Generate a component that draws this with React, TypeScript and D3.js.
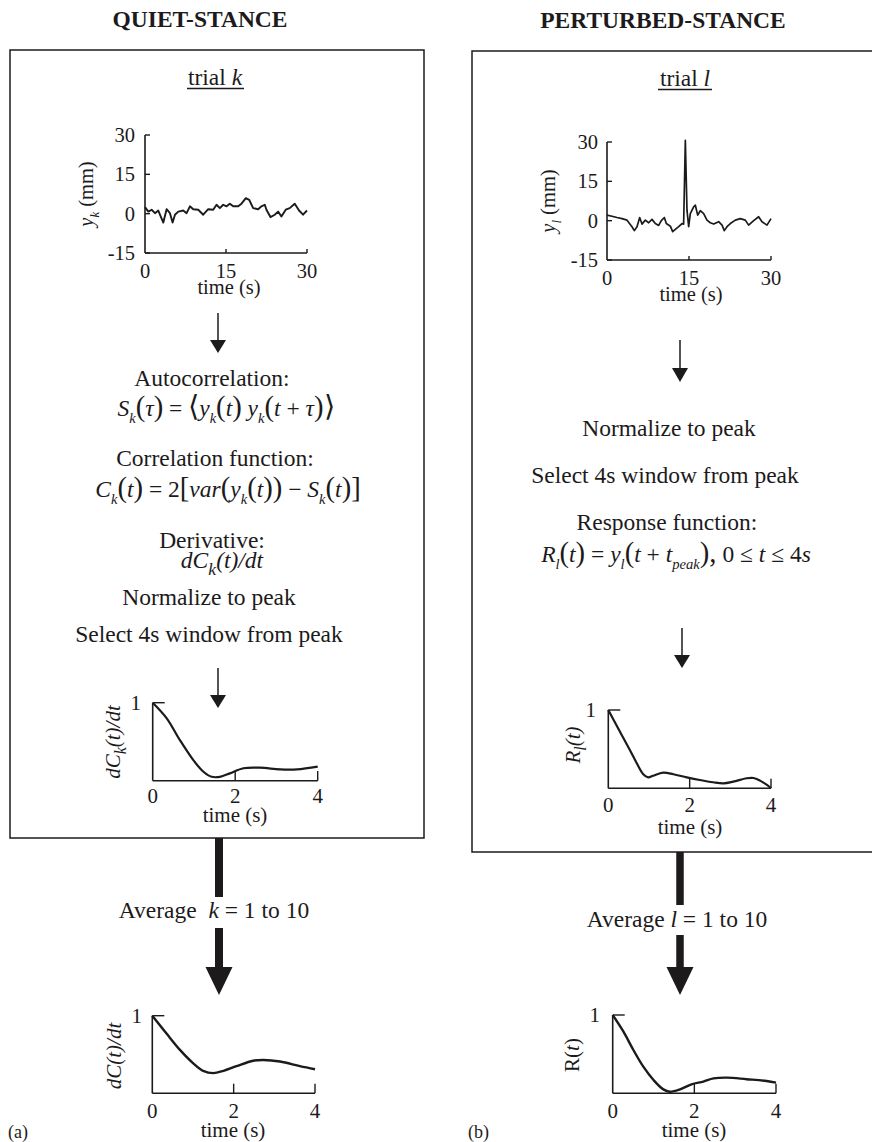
import React from 'react';
import * as d3 from 'd3';

const FONT = 'Liberation Serif';
const INK = '#1c1a1b';

// ---------- data ----------
const quietTrialTime = [0, 0.62, 1.23, 1.85, 2.46, 3.39, 4.0, 4.62, 5.11, 5.55, 6.16, 7.09, 7.7, 8.32, 8.93, 9.86, 10.78, 11.71, 12.63, 13.25, 13.86, 14.48, 15.1, 15.71, 16.33, 17.25, 17.87, 18.67, 19.29, 20.03, 20.95, 21.57, 22.18, 22.49, 23.23, 24.03, 24.65, 25.26, 26.06, 26.8, 27.73, 28.53, 29.27, 30.0];
const quietTrialPos = [2.5, 0.8, 1.5, 0.2, 1.2, -3.4, 1.7, 0.2, -3.4, -0.4, 0.8, 1.2, 0.2, 2.8, 1.7, 1.5, -0.4, 1.7, 1.5, 3.4, 2.1, 3.4, 2.8, 3.8, 2.8, 2.8, 3.8, 5.9, 5.3, 2.1, 1.7, 2.8, 3.4, 1.5, -1.3, -0.4, 0.8, -1.1, 1.5, 2.1, 3.8, 1.2, -0.4, 1.2];

const pertTrialTime = [0, 0.91, 1.83, 2.74, 3.66, 4.57, 5.0, 5.49, 5.98, 6.4, 7.01, 7.62, 8.23, 8.84, 9.45, 9.94, 10.49, 10.85, 11.59, 12.01, 12.5, 13.11, 13.72, 14.02, 14.33, 14.63, 14.94, 15.24, 15.85, 16.16, 16.59, 17.07, 17.68, 18.29, 18.9, 19.51, 20.43, 21.04, 21.46, 21.95, 22.56, 23.48, 24.39, 25.3, 25.91, 26.83, 27.74, 28.35, 29.27, 30.0];
const pertTrialPos = [2.1, 1.7, 1.2, 0.8, 0.2, -2.3, -3.8, -2.3, 1.2, -1.3, 0.2, -0.8, 0.5, -1.1, -1.8, 0, 1.2, -1.1, -2.1, -4.2, -3.3, -2.3, -1.1, -1.3, 30.6, 4.0, -2.3, 2.7, 5.3, 5.9, 2.1, 3.8, 2.7, 0.2, -0.8, -1.3, -0.4, -1.7, -3.8, -2.3, -1.1, 0.2, 0.8, 0.2, -1.7, 0, 1.5, -0.4, -1.7, 0.8];

const quietDerivTime = [0, 0.34, 0.66, 0.99, 1.23, 1.43, 1.63, 1.87, 2.2, 2.6, 3.09, 3.5, 4];
const quietDerivVal = [1.0, 0.8, 0.52, 0.26, 0.115, 0.05, 0.05, 0.094, 0.16, 0.167, 0.145, 0.145, 0.18];

const pertRespTime = [0, 0.29, 0.53, 0.7, 0.86, 0.98, 1.1, 1.35, 1.6, 1.93, 2.25, 2.58, 2.83, 3.07, 3.4, 3.57, 3.73, 3.9, 4];
const pertRespVal = [1.0, 0.72, 0.49, 0.32, 0.18, 0.14, 0.16, 0.2, 0.18, 0.14, 0.106, 0.077, 0.064, 0.085, 0.128, 0.132, 0.098, 0.043, 0];

const quietAvgTime = [0, 0.35, 0.68, 1.0, 1.25, 1.5, 1.75, 2.07, 2.48, 2.73, 3.14, 3.63, 4];
const quietAvgVal = [1.0, 0.77, 0.56, 0.39, 0.29, 0.26, 0.29, 0.35, 0.42, 0.43, 0.41, 0.35, 0.31];

const pertAvgTime = [0, 0.26, 0.51, 0.75, 1.0, 1.24, 1.4, 1.65, 1.93, 2.22, 2.47, 2.8, 3.28, 3.77, 4];
const pertAvgVal = [1.0, 0.79, 0.55, 0.34, 0.17, 0.05, 0.02, 0.05, 0.115, 0.15, 0.19, 0.2, 0.18, 0.157, 0.136];

const trialXTicks = [0, 15, 30];
const trialYTicks = [-15, 0, 15, 30];
const smallXTicks = [0, 2, 4];
const smallYTicks = [1];

// ---------- helpers ----------
type Seg = { t: string; it?: boolean; sub?: boolean; big?: boolean; small?: number };

function Rich({ segs, x, y, size, anchor = 'middle', transform }: { segs: Seg[]; x: number; y: number; size: number; anchor?: string; transform?: string }) {
  let cur = 0;
  const parts = segs.map((s, i) => {
    const target = s.sub ? size * 0.28 : 0;
    const dy = target - cur;
    cur = target;
    const fs = s.sub ? size * (s.small ?? 0.62) : s.big ? size * 1.22 : undefined;
    return (
      <tspan key={i} dy={dy !== 0 ? dy : undefined} fontStyle={s.it ? 'italic' : undefined} fontSize={fs}>
        {s.t}
      </tspan>
    );
  });
  return (
    <text x={x} y={y} fontSize={size} textAnchor={anchor} fontFamily={FONT} fill={INK} transform={transform} style={{ whiteSpace: 'pre' }}>
      {parts}
    </text>
  );
}

function Arrow({ x, y0, y1, head, headW, w }: { x: number; y0: number; y1: number; head: number; headW: number; w: number }) {
  return (
    <g>
      <line x1={x} x2={x} y1={y0} y2={y1 - head + 1} stroke={INK} strokeWidth={w} />
      <polygon points={`${x - headW / 2},${y1 - head} ${x + headW / 2},${y1 - head} ${x},${y1}`} fill={INK} />
    </g>
  );
}

type PanelProps = {
  x0: number; x1: number; y0: number; y1: number;
  xDomain: [number, number]; yDomain: [number, number];
  xTicks: number[]; yTicks: number[];
  ts: number[]; vs: number[];
  smooth: boolean;
  tickFont: number; tickLen: number;
  yLabelRight: number;
  xLabelBase: number; timeBase: number; timeX: number;
  lineW: number;
};

function Panel(p: PanelProps) {
  const xs = d3.scaleLinear().domain(p.xDomain).range([p.x0, p.x1]);
  const ys = d3.scaleLinear().domain(p.yDomain).range([p.y1, p.y0]);
  const pts: [number, number][] = p.ts.map((t, i) => [t, p.vs[i]]);
  const line = d3.line<[number, number]>()
    .x((d) => xs(d[0]))
    .y((d) => ys(d[1]))
    .curve(p.smooth ? d3.curveCatmullRom.alpha(0.5) : d3.curveLinear);
  return (
    <g>
      <path d={line(pts) ?? ''} fill="none" stroke={INK} strokeWidth={p.lineW} strokeLinejoin="round" />
      <line x1={p.x0} x2={p.x0} y1={p.y0} y2={p.y1} stroke={INK} strokeWidth={1.6} />
      <line x1={p.x0} x2={p.x1} y1={p.y1} y2={p.y1} stroke={INK} strokeWidth={1.6} />
      {p.yTicks.map((v) => (
        <g key={'y' + v}>
          <line x1={p.x0} x2={p.x0 + p.tickLen} y1={ys(v)} y2={ys(v)} stroke={INK} strokeWidth={1.4} />
          <text x={p.yLabelRight} y={ys(v) + p.tickFont * 0.34} fontSize={p.tickFont} textAnchor="end" fontFamily={FONT} fill={INK}>
            {String(v)}
          </text>
        </g>
      ))}
      {p.xTicks.map((v) => (
        <g key={'x' + v}>
          {v !== p.xDomain[0] && (
            <line x1={xs(v)} x2={xs(v)} y1={p.y1} y2={p.y1 - p.tickLen * 0.8} stroke={INK} strokeWidth={1.4} />
          )}
          <text x={xs(v)} y={p.xLabelBase} fontSize={p.tickFont} textAnchor="middle" fontFamily={FONT} fill={INK}>
            {String(v)}
          </text>
        </g>
      ))}
      <text x={p.timeX} y={p.timeBase} fontSize={p.tickFont} textAnchor="middle" fontFamily={FONT} fill={INK}>
        time (s)
      </text>
    </g>
  );
}

export default function App() {
  const BODY = 23.5;
  const leftBoxBottom = 838;
  const rightBoxBottom = 852;
  return (
    <svg width={872} height={1142} viewBox="0 0 872 1142" style={{ position: 'absolute', left: 0, top: 0, background: '#fff' }}>
      <rect x={0} y={0} width={872} height={1142} fill="#fff" />
      <text x={200} y={27} fontSize={23.5} fontWeight="bold" textAnchor="middle" fontFamily={FONT} fill={INK}>QUIET-STANCE</text>
      <text x={663} y={28} fontSize={23.5} fontWeight="bold" textAnchor="middle" fontFamily={FONT} fill={INK}>PERTURBED-STANCE</text>

      <rect x={10} y={50} width={414} height={leftBoxBottom - 50} fill="none" stroke={INK} strokeWidth={1.5} />
      <rect x={472} y={51} width={420} height={rightBoxBottom - 51} fill="none" stroke={INK} strokeWidth={1.5} />

      <Rich segs={[{ t: 'trial ' }, { t: 'k', it: true }]} x={215} y={85} size={BODY} />
      <line x1={187} x2={244} y1={88.5} y2={88.5} stroke={INK} strokeWidth={1.3} />
      <Rich segs={[{ t: 'trial ' }, { t: 'l', it: true }]} x={685} y={86} size={BODY} />
      <line x1={658} x2={712} y1={89.5} y2={89.5} stroke={INK} strokeWidth={1.3} />

      <Panel x0={145} x1={307} y0={135} y1={253} xDomain={[0, 30]} yDomain={[-15, 30]}
        xTicks={trialXTicks} yTicks={trialYTicks} ts={quietTrialTime} vs={quietTrialPos} smooth={false}
        tickFont={20.5} tickLen={5} yLabelRight={135} xLabelBase={278} timeBase={294} timeX={229} lineW={1.9} />
      <Rich segs={[{ t: 'y', it: true }, { t: 'k', it: true, sub: true }, { t: ' (mm)' }]} x={93} y={194} size={20.5} transform="rotate(-90 93 194)" />

      <Panel x0={607} x1={771} y0={142} y1={260} xDomain={[0, 30]} yDomain={[-15, 30]}
        xTicks={trialXTicks} yTicks={trialYTicks} ts={pertTrialTime} vs={pertTrialPos} smooth={false}
        tickFont={20.5} tickLen={5} yLabelRight={598} xLabelBase={285} timeBase={301} timeX={691} lineW={1.7} />
      <Rich segs={[{ t: 'y', it: true }, { t: 'l', it: true, sub: true }, { t: ' (mm)' }]} x={555} y={201} size={20.5} transform="rotate(-90 555 201)" />

      <Arrow x={218} y0={313} y1={353} head={13} headW={16} w={1.5} />
      <Arrow x={680} y0={340} y1={382} head={14} headW={16} w={1.5} />
      <Arrow x={218} y0={668} y1={708} head={13} headW={16} w={1.5} />
      <Arrow x={682} y0={628} y1={668} head={13} headW={16} w={1.5} />

      <Rich segs={[{ t: 'Autocorrelation:' }]} x={212} y={386} size={BODY} />
      <Rich x={226} y={416} size={BODY} segs={[
        { t: 'S', it: true }, { t: 'k', it: true, sub: true }, { t: '(', big: true }, { t: 'τ', it: true }, { t: ')', big: true },
        { t: ' = ' }, { t: '⟨', big: true }, { t: 'y', it: true }, { t: 'k', it: true, sub: true }, { t: '(', big: true }, { t: 't', it: true }, { t: ')', big: true },
        { t: ' y', it: true }, { t: 'k', it: true, sub: true }, { t: '(', big: true }, { t: 't', it: true }, { t: ' + ' }, { t: 'τ', it: true }, { t: ')', big: true }, { t: '⟩', big: true },
      ]} />
      <Rich segs={[{ t: 'Correlation function:' }]} x={215} y={466} size={BODY} />
      <Rich x={228} y={497} size={BODY} segs={[
        { t: 'C', it: true }, { t: 'k', it: true, sub: true }, { t: '(', big: true }, { t: 't', it: true }, { t: ')', big: true },
        { t: ' = 2' }, { t: '[', big: true }, { t: 'var', it: true }, { t: '(', big: true }, { t: 'y', it: true }, { t: 'k', it: true, sub: true },
        { t: '(', big: true }, { t: 't', it: true }, { t: '))', big: true }, { t: ' − ' }, { t: 'S', it: true }, { t: 'k', it: true, sub: true },
        { t: '(', big: true }, { t: 't', it: true }, { t: ')]', big: true },
      ]} />
      <Rich segs={[{ t: 'Derivative:' }]} x={212} y={548} size={BODY} />
      <Rich x={222} y={568} size={BODY} segs={[
        { t: 'dC', it: true }, { t: 'k', it: true, sub: true, small: 0.75 }, { t: '(t)/dt', it: true },
      ]} />
      <Rich segs={[{ t: 'Normalize to peak' }]} x={209} y={605} size={BODY} />
      <Rich segs={[{ t: 'Select 4s window from peak' }]} x={209} y={642} size={BODY} />

      <Rich segs={[{ t: 'Normalize to peak' }]} x={669} y={436} size={BODY} />
      <Rich segs={[{ t: 'Select 4s window from peak' }]} x={665} y={483} size={BODY} />
      <Rich segs={[{ t: 'Response function:' }]} x={667} y={530} size={BODY} />
      <Rich x={676} y={562} size={BODY} segs={[
        { t: 'R', it: true }, { t: 'l', it: true, sub: true }, { t: '(', big: true }, { t: 't', it: true }, { t: ')', big: true },
        { t: ' = ' }, { t: 'y', it: true }, { t: 'l', it: true, sub: true }, { t: '(', big: true }, { t: 't', it: true }, { t: ' + ' }, { t: 't', it: true },
        { t: 'peak', it: true, sub: true }, { t: '),', big: true }, { t: ' 0 ≤ ' }, { t: 't', it: true }, { t: ' ≤ 4' }, { t: 's', it: true },
      ]} />

      <Panel x0={152.7} x1={317.7} y0={702.7} y1={780.7} xDomain={[0, 4]} yDomain={[0, 1]}
        xTicks={smallXTicks} yTicks={smallYTicks} ts={quietDerivTime} vs={quietDerivVal} smooth={true}
        tickFont={21} tickLen={12} yLabelRight={141} xLabelBase={803} timeBase={822} timeX={235} lineW={2.2} />
      <Rich x={120} y={742} size={21} transform="rotate(-90 120 742)" segs={[
        { t: 'dC', it: true }, { t: 'k', it: true, sub: true, small: 0.75 }, { t: '(t)/dt', it: true },
      ]} />

      <Panel x0={608.3} x1={771} y0={710} y1={788.3} xDomain={[0, 4]} yDomain={[0, 1]}
        xTicks={smallXTicks} yTicks={smallYTicks} ts={pertRespTime} vs={pertRespVal} smooth={true}
        tickFont={21} tickLen={12} yLabelRight={596} xLabelBase={812} timeBase={834} timeX={690} lineW={2.2} />
      <Rich x={580} y={745} size={21} transform="rotate(-90 580 745)" segs={[
        { t: 'R', it: true }, { t: 'l', it: true, sub: true, small: 0.75 }, { t: '(t)', it: true },
      ]} />

      <line x1={219} x2={219} y1={leftBoxBottom} y2={897} stroke={INK} strokeWidth={8} />
      <Arrow x={219} y0={928} y1={995} head={28} headW={27} w={8} />
      <Rich segs={[{ t: 'Average  ' }, { t: 'k', it: true }, { t: ' = 1 to 10' }]} x={214} y={918} size={BODY} />

      <line x1={680} x2={680} y1={rightBoxBottom} y2={905} stroke={INK} strokeWidth={7.5} />
      <Arrow x={680} y0={935} y1={995} head={28} headW={27} w={7.5} />
      <Rich segs={[{ t: 'Average ' }, { t: 'l', it: true }, { t: ' = 1 to 10' }]} x={677} y={927} size={BODY} />

      <Panel x0={152.3} x1={315} y0={1015.7} y1={1093.3} xDomain={[0, 4]} yDomain={[0, 1]}
        xTicks={smallXTicks} yTicks={smallYTicks} ts={quietAvgTime} vs={quietAvgVal} smooth={true}
        tickFont={21} tickLen={12} yLabelRight={142} xLabelBase={1118} timeBase={1137} timeX={233} lineW={2.4} />
      <Rich x={121} y={1056} size={21} transform="rotate(-90 121 1056)" segs={[{ t: 'dC(t)/dt', it: true }]} />

      <Panel x0={612.7} x1={776} y0={1015} y1={1093.3} xDomain={[0, 4]} yDomain={[0, 1]}
        xTicks={smallXTicks} yTicks={smallYTicks} ts={pertAvgTime} vs={pertAvgVal} smooth={true}
        tickFont={21} tickLen={12} yLabelRight={600} xLabelBase={1118} timeBase={1137} timeX={694} lineW={2.4} />
      <Rich x={579} y={1055} size={21} transform="rotate(-90 579 1055)" segs={[{ t: 'R(' }, { t: 't', it: true }, { t: ')' }]} />

      <text x={8} y={1138} fontSize={18} fontFamily={FONT} fill={INK}>(a)</text>
      <text x={468} y={1138} fontSize={18} fontFamily={FONT} fill={INK}>(b)</text>
    </svg>
  );
}
